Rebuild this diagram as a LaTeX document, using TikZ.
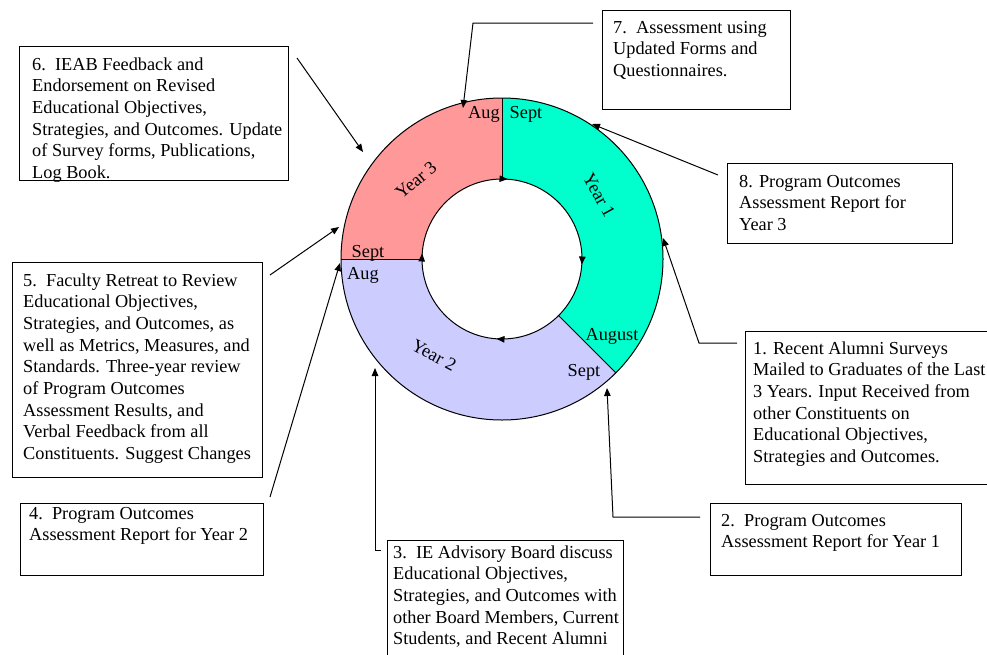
\documentclass[tikz,border=0pt]{standalone}
\usepackage{fontspec}
\setmainfont{Liberation Serif}
\usetikzlibrary{arrows.meta,decorations.markings,calc}
\definecolor{yearone}{HTML}{00FFCC}
\definecolor{yeartwo}{HTML}{CCCCFF}
\definecolor{yearthree}{HTML}{FF9999}
\newcommand{\mylines}[1]{\parbox[t]{300pt}{\raggedright #1}}
\begin{document}
\begin{tikzpicture}[x=1pt,y=1pt,
  every node/.style={font=\fontsize{18.3}{21.7}\selectfont},
  box/.style={draw, line width=1.2pt, inner sep=0pt, anchor=north west},
  txt/.style={inner sep=0pt, anchor=base west},
  month/.style={inner sep=0pt, anchor=base},
  yearlbl/.style={inner sep=0pt, anchor=center},
  ring/.style={line width=1pt},
  arr/.style={line width=1pt, -{Triangle[length=8pt,width=6.5pt]}}]
\clip (0,0) rectangle (987,-654);
\coordinate (C) at (502,-259);
% sectors
\fill[yearone] ($(C)+(90:161)$) arc (90:-45:161) -- ($(C)+(-45:80)$) arc (-45:90:80) -- cycle;
\fill[yeartwo] ($(C)+(-45:161)$) arc (-45:-180:161) -- ($(C)+(-180:80)$) arc (-180:-45:80) -- cycle;
\fill[yearthree] ($(C)+(180:161)$) arc (180:90:161) -- ($(C)+(90:80)$) arc (90:180:80) -- cycle;
% outlines
\draw[ring] (C) circle (161);
\draw[ring, postaction={decorate}, decoration={markings,
   mark=at position 0.011 with {\arrow{Triangle[length=8pt,width=6.5pt]}},
   mark=at position 0.261 with {\arrow{Triangle[length=8pt,width=6.5pt]}},
   mark=at position 0.511 with {\arrow{Triangle[length=8pt,width=6.5pt]}},
   mark=at position 0.761 with {\arrow{Triangle[length=8pt,width=6.5pt]}}}]
   ($(C)+(90:80)$) arc (90:-270:80);
\draw[ring] ($(C)+(90:80)$) -- ($(C)+(90:161)$);
\draw[ring] ($(C)+(180:80)$) -- ($(C)+(180:161)$);
\draw[ring] ($(C)+(-45:80)$) -- ($(C)+(-45:161)$);
% months
\node[month] (m1) at (484,-118) {Aug};
\node[month] (m2) at (526,-118) {Sept};
\node[month] (m3) at (368,-257) {Sept};
\node[month] (m4) at (363,-279) {Aug};
\node[month] (m5) at (612,-340) {August};
\node[month] (m6) at (584,-376) {Sept};
% years
\node[yearlbl, rotate=-61] (y1) at (599,-195) {Year 1};
\node[yearlbl, rotate=-28] (y2) at (434,-355) {Year 2};
\node[yearlbl, rotate=40] (y3) at (416,-180) {Year 3};
% boxes
\node[box, minimum width=269pt, minimum height=134pt] (b6) at (19,-46) {};
\node[box, minimum width=250pt, minimum height=215pt] (b5) at (12,-262) {};
\node[box, minimum width=243pt, minimum height=72pt] (b4) at (20,-503) {};
\node[box, minimum width=188pt, minimum height=99pt] (b7) at (602,-10) {};
\node[box, minimum width=225pt, minimum height=80pt] (b8) at (727,-163) {};
\node[box, minimum width=260pt, minimum height=153pt] (b1) at (745,-331) {};
\node[box, minimum width=251pt, minimum height=72pt] (b2) at (710,-503) {};
\node[box, minimum width=236pt, minimum height=140pt] (b3) at (387,-540) {};
% texts
\node[txt] (t6) at (32,-70) {\mylines{6.\ \ IEAB Feedback and\\Endorsement on Revised\\Educational Objectives,\\Strategies, and Outcomes. Update\\of Survey forms, Publications,\\Log Book.}};
\node[txt] (t5) at (23,-286) {\mylines{5.\ \ Faculty Retreat to Review\\Educational Objectives,\\Strategies, and Outcomes, as\\well as Metrics, Measures, and\\Standards. Three-year review\\of Program Outcomes\\Assessment Results, and\\Verbal Feedback from all\\Constituents. Suggest Changes}};
\node[txt] (t4) at (29,-519) {\mylines{4.\ \ Program Outcomes\\Assessment Report for Year 2}};
\node[txt] (t7) at (613,-33) {\mylines{7.\ \ Assessment using\\Updated Forms and\\Questionnaires.}};
\node[txt] (t8) at (739,-187) {\mylines{8. Program Outcomes\\Assessment Report for\\Year 3}};
\node[txt] (t1) at (753,-354) {\mylines{1. Recent Alumni Surveys\\Mailed to Graduates of the Last\\3 Years. Input Received from\\other Constituents on\\Educational Objectives,\\Strategies and Outcomes.}};
\node[txt] (t2) at (721,-526) {\mylines{2.\ \ Program Outcomes\\Assessment Report for Year 1}};
\node[txt] (t3) at (393,-558) {\mylines{3.\ \ IE Advisory Board discuss\\Educational Objectives,\\Strategies, and Outcomes with\\other Board Members, Current\\Students, and Recent Alumni}};
% connectors
\coordinate (s6) at (297,-58); \coordinate (e6) at (363,-152);
\draw[arr] (s6) -- (e6);
\coordinate (s7) at (593,-23); \coordinate (k7) at (473,-23); \coordinate (e7) at (463,-108);
\draw[arr] (s7) -- (k7) -- (e7);
\coordinate (s8) at (718,-175); \coordinate (e8) at (592,-124);
\draw[arr] (s8) -- (e8);
\coordinate (s1) at (737,-343); \coordinate (k1) at (699,-343); \coordinate (e1) at (663,-238);
\draw[arr] (s1) -- (k1) -- (e1);
\coordinate (s2) at (700,-517); \coordinate (k2) at (613,-517); \coordinate (e2) at (607,-388);
\draw[arr] (s2) -- (k2) -- (e2);
\coordinate (s3) at (381,-550); \coordinate (k3) at (375,-550); \coordinate (e3) at (375,-368);
\draw[arr] (s3) -- (k3) -- (e3);
\coordinate (s4) at (270,-497); \coordinate (e4) at (340,-263);
\draw[arr] (s4) -- (e4);
\coordinate (s5) at (270,-275); \coordinate (e5) at (339,-227);
\draw[arr] (s5) -- (e5);
\end{tikzpicture}
\end{document}
